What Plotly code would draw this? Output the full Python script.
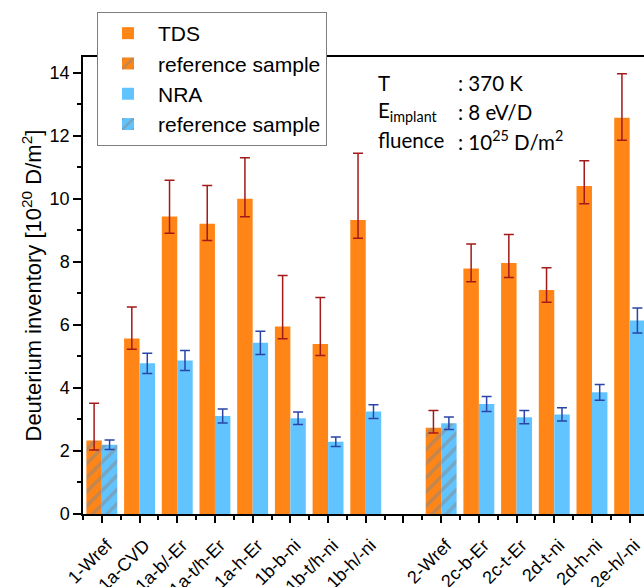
import plotly.graph_objects as go

categories = ["1-Wref", "1a-CVD", "1a-b/-Er", "1a-t/h-Er", "1a-h-Er", "1b-b-ni", "1b-t/h-ni", "1b-h/-ni",
              "", "2-Wref", "2c-b-Er", "2c-t-Er", "2d-t-ni", "2d-h-ni", "2e-h/-ni"]
is_reference = [True, False, False, False, False, False, False, False,
                False, True, False, False, False, False, False]

tds = [2.33, 5.57, 9.44, 9.21, 10.0, 5.95, 5.39, 9.33, None, 2.74, 7.79, 7.96, 7.11, 10.41, 12.57]
tds_err_plus = [1.18, 1.0, 1.15, 1.21, 1.30, 1.62, 1.48, 2.12, None, 0.54, 0.78, 0.91, 0.70, 0.80, 1.40]
tds_err_minus = [0.30, 0.34, 0.53, 0.53, 0.57, 0.39, 0.36, 0.58, None, 0.17, 0.42, 0.46, 0.39, 0.57, 0.71]

nra = [2.20, 4.78, 4.87, 3.11, 5.43, 3.04, 2.29, 3.25, None, 2.88, 3.49, 3.07, 3.16, 3.86, 6.14]
nra_err = [0.15, 0.32, 0.32, 0.22, 0.37, 0.20, 0.15, 0.22, None, 0.20, 0.24, 0.21, 0.21, 0.25, 0.40]

y_ticks = [0, 2, 4, 6, 8, 10, 12, 14]

ORANGE = "#FF8517"
BLUE = "#62C4FF"
RED_ERR = "#A31A1A"
BLUE_ERR = "#2A44A8"
HATCH = "#878787"
FONT = "Liberation Sans, Arial, sans-serif"

idx = list(range(len(categories)))


def pick(values, ref):
    return [v if (r == ref) else None for v, r in zip(values, is_reference)]


hatch = dict(shape="/", fgcolor=HATCH, size=10, solidity=0.35, fillmode="overlay")

fig = go.Figure()

fig.add_trace(go.Bar(
    x=idx, y=pick(tds, False), name="TDS", offsetgroup="tds",
    marker=dict(color=ORANGE, line=dict(width=0)),
    error_y=dict(type="data", symmetric=False, array=pick(tds_err_plus, False),
                 arrayminus=pick(tds_err_minus, False), color=RED_ERR, thickness=1.5, width=5),
))
fig.add_trace(go.Bar(
    x=idx, y=pick(tds, True), name="reference sample", offsetgroup="tds",
    marker=dict(color=ORANGE, line=dict(width=0), pattern=hatch),
    error_y=dict(type="data", symmetric=False, array=pick(tds_err_plus, True),
                 arrayminus=pick(tds_err_minus, True), color=RED_ERR, thickness=1.5, width=5),
))
fig.add_trace(go.Bar(
    x=idx, y=pick(nra, False), name="NRA", offsetgroup="nra",
    marker=dict(color=BLUE, line=dict(width=0)),
    error_y=dict(type="data", array=pick(nra_err, False), color=BLUE_ERR, thickness=1.5, width=5),
))
fig.add_trace(go.Bar(
    x=idx, y=pick(nra, True), name="reference sample", offsetgroup="nra",
    marker=dict(color=BLUE, line=dict(width=0), pattern=hatch),
    error_y=dict(type="data", array=pick(nra_err, True), color=BLUE_ERR, thickness=1.5, width=5),
))

minor_x = [-0.5] + [i + 0.5 for i in idx[:-1]]

fig.update_layout(
    width=644, height=587,
    margin=dict(l=83, r=0, t=57, b=73, autoexpand=False),
    paper_bgcolor="white", plot_bgcolor="white",
    barmode="group", bargap=0.18, bargroupgap=0,
    font=dict(family=FONT, color="black"),
    showlegend=True,
    legend=dict(x=(97 - 83) / 561, y=(514 - 12) / 457, xref="paper", yref="paper",
                xanchor="left", yanchor="top",
                bgcolor="white", bordercolor="#7f7f7f", borderwidth=1,
                font=dict(family=FONT, size=21, color="black"),
                tracegroupgap=0, itemwidth=50),
    xaxis=dict(
        range=[-0.5, 14.38], automargin=False,
        tickmode="array", tickvals=idx, ticktext=categories,
        tickangle=-45, tickfont=dict(family=FONT, size=18, color="black"),
        ticklabelstandoff=5, ticklabelshift=5,
        ticks="outside", ticklen=7, tickwidth=1.5, tickcolor="black",
        minor=dict(tickvals=minor_x, ticks="outside", ticklen=4, tickwidth=1.5, tickcolor="black"),
        showline=True, linecolor="black", linewidth=1.5, mirror=True,
        showgrid=False, zeroline=False,
    ),
    yaxis=dict(
        range=[0, 14.5], automargin=False,
        tickmode="array", tickvals=y_ticks,
        tickfont=dict(family=FONT, size=18, color="black"),
        ticks="outside", ticklen=8, tickwidth=1.5, tickcolor="black",
        minor=dict(dtick=1, tick0=0, ticks="outside", ticklen=4, tickwidth=1.5, tickcolor="black"),
        showline=True, linecolor="black", linewidth=1.5,
        showgrid=False, zeroline=False,
    ),
)

# y-axis title
fig.add_annotation(xref="paper", yref="paper", x=(31 - 83) / 561, y=0.5,
                   text="Deuterium inventory [10<sup>20</sup> D/m<sup>2</sup>]",
                   textangle=-90, showarrow=False, xanchor="center", yanchor="middle",
                   font=dict(family=FONT, size=22, color="black"))

ann_font = dict(family="Lato, Open Sans, sans-serif", size=20.5, color="black")
rows = [("T", ": 370 K", 0.943),
        ("E<sub>implant</sub>", ": 8 eV/D", 0.880),
        ("fluence", ": 10<sup>25</sup> D/m<sup>2</sup>", 0.818)]
for left, right, yy in rows:
    fig.add_annotation(xref="paper", yref="paper", x=0.522, y=yy, text=left, showarrow=False,
                       xanchor="left", yanchor="middle", font=ann_font)
    fig.add_annotation(xref="paper", yref="paper", x=0.664, y=yy, text=right, showarrow=False,
                       xanchor="left", yanchor="middle", font=ann_font)

fig.write_html(
    "out.html",
    config={"displayModeBar": False},
    post_script="document.body.style.margin='0';"
                "document.documentElement.style.overflow='hidden';"
                "document.body.style.overflow='hidden';",
)
